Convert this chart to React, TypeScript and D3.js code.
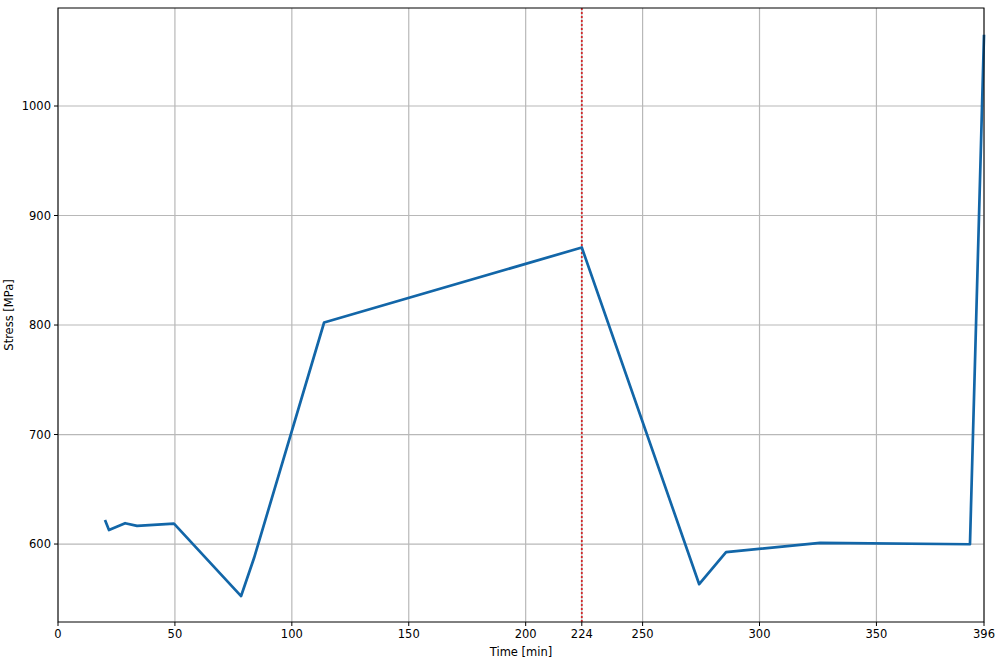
import React from "react";
import * as d3 from "d3";

const timeMin = [20.1, 21.8, 28.7, 33.8, 49.6, 78.3, 83.8, 113.8, 224, 274.2, 285.7, 325.9, 390, 396];
const stressMPa = [621.9, 612.8, 619, 616.6, 618.6, 552.5, 587, 802.3, 870.8, 563.3, 592.6, 601, 599.8, 1065];
const xTicks = [0, 50, 100, 150, 200, 224, 250, 300, 350, 396];
const yTicks = [600, 700, 800, 900, 1000];
const markerTime = 224;

export default function App() {
  const W = 1000, H = 664;
  const left = 58, right = 984, top = 8, bottom = 622;
  const x = d3.scaleLinear().domain([0, 396]).range([left, right]);
  const y = d3.scaleLinear().domain([528.8, 1089.5]).range([bottom, top]);
  const pts: [number, number][] = timeMin.map((t, i) => [t, stressMPa[i]]);
  const line = d3.line<[number, number]>().x(d => x(d[0])).y(d => y(d[1]));
  const font = "DejaVu Sans, sans-serif";
  return (
    <svg width={W} height={H} style={{ position: "absolute", left: 0, top: 0, background: "#fff" }}>
      <rect x={0} y={0} width={W} height={H} fill="#fff" />
      {xTicks.map(t => (
        <line key={"gx" + t} x1={x(t)} x2={x(t)} y1={top} y2={bottom} stroke="#b8b8b8" strokeWidth={1.2} />
      ))}
      {yTicks.map(t => (
        <line key={"gy" + t} x1={left} x2={right} y1={y(t)} y2={y(t)} stroke="#b8b8b8" strokeWidth={1.2} />
      ))}
      <line x1={x(markerTime)} x2={x(markerTime)} y1={top} y2={bottom} stroke="#d0282a" strokeWidth={1.8} strokeDasharray="2,2" />
      <path d={line(pts) || ""} fill="none" stroke="#1266a8" strokeWidth={2.7} strokeLinejoin="round" />
      <rect x={left} y={top} width={right - left} height={bottom - top} fill="none" stroke="#000" strokeWidth={1} />
      {xTicks.map(t => (
        <g key={"tx" + t}>
          <line x1={x(t)} x2={x(t)} y1={bottom} y2={bottom + 4} stroke="#000" />
          <text x={x(t)} y={bottom + 16} textAnchor="middle" fontSize={11.5} fontFamily={font}>{t}</text>
        </g>
      ))}
      {yTicks.map(t => (
        <g key={"ty" + t}>
          <line x1={left - 4} x2={left} y1={y(t)} y2={y(t)} stroke="#000" />
          <text x={left - 7} y={y(t) + 4} textAnchor="end" fontSize={11.5} fontFamily={font}>{t}</text>
        </g>
      ))}
      <text x={(left + right) / 2} y={656} textAnchor="middle" fontSize={11.5} fontFamily={font}>Time [min]</text>
      <text transform={`translate(13,${(top + bottom) / 2}) rotate(-90)`} textAnchor="middle" fontSize={11.5} fontFamily={font}>Stress [MPa]</text>
    </svg>
  );
}
